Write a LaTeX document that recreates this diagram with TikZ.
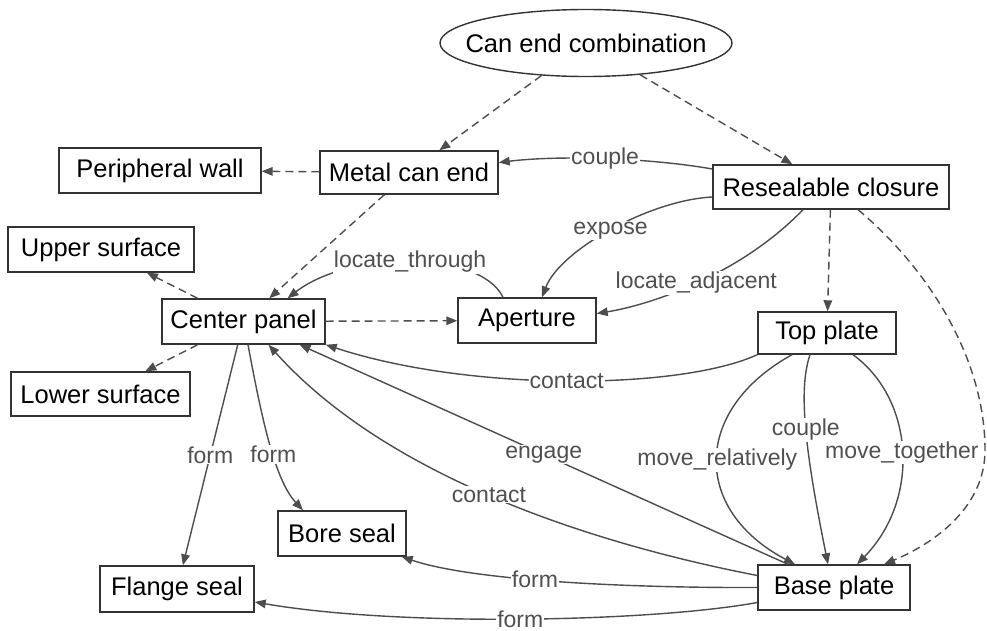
\documentclass[tikz,border=0pt]{standalone}
\usepackage{fontspec}
\setmainfont{Liberation Sans}
\usetikzlibrary{arrows.meta,shapes.geometric}
\definecolor{edgec}{HTML}{4D4D4D}
\definecolor{labc}{HTML}{505050}
\definecolor{boxc}{HTML}{333333}
\begin{document}
\begin{tikzpicture}[x=1pt,y=-1pt,
  box/.style={draw=boxc, line width=1.4pt, rectangle, inner sep=0pt, text=black,
    font=\fontsize{25.5}{28}\selectfont},
  edge/.style={draw=edgec, line width=1.4pt, -{Triangle[length=11pt,width=8.5pt]}},
  dedge/.style={edge, dash pattern=on 8pt off 5pt},
  lab/.style={fill=white, text=labc, inner sep=1pt, font=\fontsize{23}{26}\selectfont}]
\useasboundingbox (0,0) rectangle (987,631);
\fill[white] (0,0) rectangle (987,631);

\node[ellipse, draw=boxc, line width=1.4pt, minimum width=292pt, minimum height=67pt, inner sep=0pt,
  font=\fontsize{25.5}{28}\selectfont] (comb) at (586,43) {\makebox[0pt]{Can end combination}};
\node[box, minimum width=202pt, minimum height=45pt] (pw) at (160,170.5) {Peripheral wall};
\node[box, minimum width=178pt, minimum height=43pt] (mce) at (409,172.5) {Metal can end};
\node[box, minimum width=236pt, minimum height=44pt] (rc) at (831,187) {Resealable closure};
\node[box, minimum width=186pt, minimum height=45pt] (us) at (101,249.5) {Upper surface};
\node[box, minimum width=163pt, minimum height=45pt] (cp) at (243.5,321.5) {Center panel};
\node[box, minimum width=138pt, minimum height=45pt] (ap) at (527,320.5) {Aperture};
\node[box, minimum width=138pt, minimum height=42pt] (tp) at (827,333) {Top plate};
\node[box, minimum width=179pt, minimum height=44pt] (ls) at (100.5,394) {Lower surface};
\node[box, minimum width=128pt, minimum height=45pt] (bs) at (342,533.5) {Bore seal};
\node[box, minimum width=154pt, minimum height=46pt] (fs) at (177,589) {Flange seal};
\node[box, minimum width=152pt, minimum height=45pt] (bp) at (834,587.5) {Base plate};

% dashed structural edges
\draw[dedge] (comb) -- (mce);
\draw[dedge] (comb) -- (rc);
\draw[dedge] (mce) -- (pw);
\draw[dedge] (rc) -- (tp);
\draw[dedge] (mce) -- (cp);
\draw[dedge] (cp) -- (us);
\draw[dedge] (cp) -- (ls);
\draw[dedge] (cp) -- (ap);
\draw[dedge] ([xshift=27pt]rc.south) .. controls (930,270) and (985,360) .. (985,450)
  .. controls (985,510) and (930,545) .. ([xshift=50pt]bp.north);

% labelled edges
\draw[edge] ([yshift=18pt]rc.west) .. controls (650,158) and (560,155) .. ([yshift=10pt]mce.east)
  node[lab, pos=0.5] {couple};
\draw[edge] ([yshift=-10pt]rc.west) .. controls (650,200) and (560,250) .. ([xshift=15pt]ap.north)
  node[lab, pos=0.5] {expose};
\draw[edge] ([xshift=-28pt]rc.south) .. controls (740,275) and (650,305) .. ([yshift=7pt]ap.east)
  node[lab, pos=0.5] {locate\_adjacent};
\draw[edge] ([xshift=-24pt]ap.north) .. controls (480,250) and (350,250) .. ([xshift=44pt]cp.north)
  node[lab, pos=0.5] {locate\_through};
\draw[edge] (cp) -- (fs) node[lab, pos=0.5] {form};
\draw[edge] ([xshift=4.5pt]cp.south) .. controls (262,420) and (275,480) .. ([xshift=-39pt]bs.north)
  node[lab, pos=0.56] {form};
\draw[edge] (tp.south west) .. controls (680,390) and (470,392) .. (cp.south east)
  node[lab, pos=0.5] {contact};
\draw[edge] ([yshift=12pt]bp.west) .. controls (600,545) and (390,480) .. ([xshift=25pt]cp.south)
  node[lab, pos=0.52] {contact};
\draw[edge] ([xshift=-46pt]bp.north) -- ([xshift=56pt]cp.south) node[lab, pos=0.5] {engage};
\draw[edge] (bp.west) .. controls (620,588) and (470,580) .. ([xshift=-5pt]bs.south east)
  node[lab, pos=0.55] {form};
\draw[edge] ([yshift=-15pt]bp.west) .. controls (650,622) and (400,627) .. ([yshift=-13pt]fs.east)
  node[lab, pos=0.5] {form};
\draw[edge] ([xshift=-35pt]tp.south) .. controls (692,410) and (692,510) .. ([xshift=-39pt]bp.north)
  node[lab, pos=0.5] {move\_relatively};
\draw[edge] ([xshift=-17pt]tp.south) .. controls (798,390) and (805,450) .. ([xshift=-6pt]bp.north)
  node[lab, pos=0.5] {couple};
\draw[edge] ([xshift=26pt]tp.south) .. controls (915,400) and (920,500) .. ([xshift=23pt]bp.north)
  node[lab, pos=0.5] {move\_together};
\end{tikzpicture}
\end{document}
